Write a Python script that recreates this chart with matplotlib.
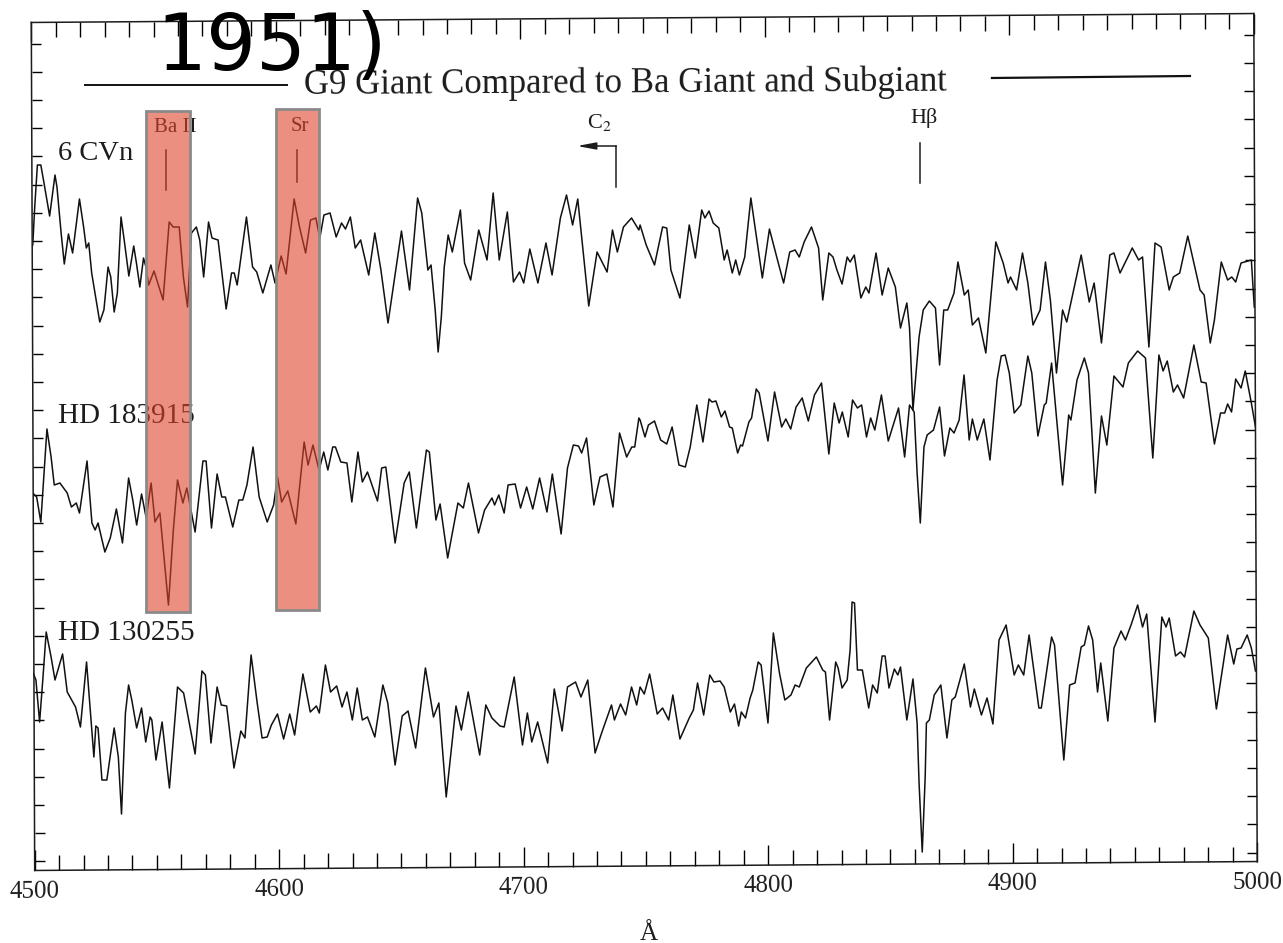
import matplotlib
matplotlib.use("Agg")
import matplotlib.pyplot as plt
from matplotlib.patches import Rectangle
from matplotlib.transforms import Affine2D
from numpy import arange

# Espectro de 6 CVn
cvn_wave = [4499.9, 4500.7, 4501.8, 4503.2, 4504.5, 4506.8, 4509, 4509.8, 4511.5, 4512.8, 4514.5, 4516.2, 4519, 4520.7, 4521.8, 4522.8, 4524, 4527.3, 4529, 4530.7, 4531.8, 4533.2, 4534.5, 4536, 4537.3, 4539.2, 4541.2, 4542.3, 4543.7, 4545.2, 4546.2, 4547.3, 4549.5, 4553.2, 4555.7, 4557.3, 4559.8, 4561.5, 4563.2, 4564.8, 4566.8, 4568.2, 4569.8, 4571.8, 4573.2, 4575.7, 4579, 4581.2, 4582.3, 4583.5, 4587.3, 4589.8, 4591.5, 4594, 4597.3, 4599, 4601.5, 4603.5, 4606.8, 4609, 4611.5, 4613.5, 4615.7, 4617.3, 4619, 4621.5, 4624, 4626.2, 4627.8, 4629.8, 4631.8, 4634, 4637.3, 4639.8, 4642.3, 4645.2, 4650.7, 4654, 4657.3, 4659, 4661.5, 4662.8, 4664.5, 4665.7, 4667, 4668.2, 4669.8, 4671.5, 4674.8, 4676.5, 4679, 4682.3, 4685.7, 4688.2, 4690.7, 4694, 4696.5, 4699, 4700.7, 4703.2, 4706.5, 4709.8, 4712.3, 4715.7, 4718.2, 4720.7, 4722.8, 4727.3, 4730.7, 4734.8, 4737, 4739, 4741.5, 4744.8, 4747.8,
            4748.3, 4750.8, 4754.2, 4757.5, 4759.2, 4760.9, 4764.6, 4768.4, 4770.9, 4773.5, 4774.8, 4776.5, 4778.2, 4780.5, 4782.7, 4783.9, 4786, 4787.4, 4788.9, 4791.1, 4793.6, 4798.3, 4801.2, 4804.5, 4807, 4809.5, 4811.7, 4813.4, 4815.4, 4818.4, 4821.3, 4823, 4825.5, 4827.2, 4828.8, 4830.9, 4833, 4834.2, 4835.9, 4838.6, 4840.6, 4841.9, 4844.8, 4847.3, 4849.8, 4852.7, 4854.8, 4857.4, 4858.5, 4859.9, 4862.4, 4864.1, 4866.6, 4869.1, 4870.8, 4872.5, 4874.1, 4876.7, 4878.3, 4880.9, 4882.5, 4884.2, 4886.7, 4889.7, 4890.9, 4893.8, 4896.8, 4898.8, 4899.8, 4902.3, 4904.7, 4906.9, 4909, 4911.9, 4914.1, 4916.1, 4918.6, 4921.1, 4922.8, 4928.7, 4932, 4934, 4937, 4940.4, 4942.1, 4944.6, 4949.6, 4952.2, 4953.8, 4956.4, 4958.9, 4961.4, 4964.7, 4966.4, 4969, 4972.3, 4977.3, 4979, 4981.5, 4983.2, 4986, 4988.6, 4990.3, 4991.9, 4994.1, 4998.3, 4999.5]
cvn_flux = [621, 659, 701, 701, 683, 650, 691, 679, 633, 602, 632, 613, 667, 639, 618, 623, 593, 544, 556, 599, 589, 554, 573, 649, 626, 590, 620, 603, 579, 608, 599, 581, 595, 566, 644, 639, 639, 589, 559, 633, 639, 626, 589, 644, 628, 626, 557, 593, 593, 581, 649, 599, 594, 573, 601, 583, 610, 592, 667, 639, 613, 646, 648, 628, 651, 653, 629, 643, 637, 649, 618, 626, 591, 633, 596, 543, 635, 576, 668, 653, 596, 601, 556, 514, 549, 599, 631, 614, 656, 603, 586, 636, 606, 673, 606, 654, 584, 594, 583, 617, 583, 623, 591, 648, 671, 641, 667, 560, 614, 594, 636, 614, 639, 648, 636,
            641, 621, 601, 639, 638, 596, 568, 641, 608, 656, 648, 655, 643, 638, 606, 616, 593, 606, 591, 609, 668, 588, 637, 606, 583, 614, 616, 609, 624, 639, 618, 566, 613, 609, 596, 582, 609, 604, 611, 568, 579, 573, 613, 571, 598, 579, 538, 563, 538, 456, 529, 556, 565, 558, 501, 556, 556, 573, 604, 571, 576, 541, 548, 513, 546, 624, 603, 583, 589, 576, 613, 583, 541, 556, 604, 566, 493, 556, 544, 611, 564, 583, 523, 611, 613, 593, 618, 606, 609, 519, 623, 619, 576, 589, 593, 630, 576, 571, 523, 546, 604, 586, 589, 584, 603, 606, 559]

# Espectro de HD 183915
hd183915_wave = [4499.9, 4501.5, 4503.2, 4505.7, 4507.4, 4508.7, 4511, 4514, 4515.7, 4517.7, 4519, 4522.1, 4524.1, 4525.4, 4526.6, 4529.4, 4531.6, 4534.1, 4536.6, 4539.1, 4540.8, 4542.4, 4544.4, 4546.3, 4548.3, 4549.9, 4551.9, 4555.4, 4557.4, 4559.1, 4561.3, 4562.9, 4566.3, 4569.5, 4570.8, 4573, 4575.3, 4577.2, 4578.7, 4581.7, 4584.2, 4585.8, 4587.5, 4590, 4592.5, 4595.8, 4598.4, 4600, 4601.7, 4604.2, 4607.5, 4610.9, 4612.5, 4614.5, 4617, 4618.9, 4620.6, 4622.6, 4623.7, 4625.9, 4628.4, 4630.4, 4632.9, 4634.7, 4636.8, 4640.9, 4642.6, 4644.3, 4648.1, 4651.8, 4653.9, 4656.8, 4660.9, 4662.1, 4664.8, 4666.5, 4669.6, 4673.8, 4676, 4678.1, 4682.2, 4684.7, 4687.7, 4688.8, 4690.5, 4692.7, 4694.3, 4697.2, 4699.4, 4701.9, 4704.4, 4707.2, 4710.2, 4712.4, 4716, 4718.6, 4721, 4723.1, 4724.4, 4726.4, 4729.4, 4731.9, 4734.7, 4737.2, 4739.9, 4742.8, 4744.9, 4746.1, 4747.8,
                 4748.3, 4750.3, 4751.7, 4754.2, 4756.7, 4759.2, 4761.4, 4764.2, 4766.8, 4768.8, 4771.5, 4774, 4776.5, 4777.7, 4779.3, 4781.5, 4783, 4784.9, 4786, 4788.2, 4789.4, 4790.2, 4792.8, 4793.9, 4795.8, 4797, 4800.6, 4803.3, 4806.2, 4807.9, 4809.9, 4812.1, 4814.6, 4817.1, 4819.6, 4822.5, 4825.5, 4827.7, 4829.7, 4831, 4833.4, 4835.2, 4837.2, 4838.9, 4840.9, 4842.6, 4844.3, 4847, 4849.8, 4854, 4856.5, 4858.5, 4860.4, 4861.6, 4862.9, 4864.4, 4865.7, 4868.3, 4870.8, 4872.8, 4875, 4876.7, 4878.8, 4880.8, 4882.9, 4884.2, 4886.2, 4888.9, 4891.4, 4894.3, 4896, 4897.6, 4899.3, 4901.3, 4904, 4906.9, 4908.5, 4911, 4913.6, 4914.4, 4916.6, 4921.1, 4923.6, 4924.5, 4927, 4930, 4931.7, 4934.5, 4937, 4939.2, 4942.1, 4945.8, 4948, 4951.8, 4955, 4958, 4960.5, 4962.2, 4963.9, 4966.4, 4968.1, 4970.6, 4974.8, 4977.8, 4979.8, 4983.2, 4985.7, 4987.4, 4988.6, 4990.2, 4991.9, 4994.1, 4995.8, 4998.3, 5000]
hd183915_flux = [373, 369, 344, 437, 409, 381, 383, 373, 359, 363, 353, 405, 343, 336, 343, 314, 328, 357, 323, 388, 366, 341, 372, 348, 383, 344, 353, 261, 336, 386, 363, 378, 334, 405, 405, 338, 392, 369, 369, 339, 366, 366, 381, 419, 369, 344, 361, 389, 364, 375, 342, 424, 401, 421, 396, 414, 396, 419, 419, 404, 403, 364, 414, 384, 394, 365, 398, 399, 323, 383, 394, 338, 416, 414, 346, 362, 308, 363, 358, 383, 333, 356, 368, 361, 371, 353, 381, 382, 358, 379, 357, 388, 354, 392, 332, 398, 421, 420, 413, 428, 361, 389, 392, 359, 433, 409, 419, 419, 448,
                 446, 429, 441, 445, 426, 422, 439, 401, 399, 419, 461, 424, 467, 464, 465, 449, 455, 439, 438, 413, 421, 420, 444, 448, 477, 473, 425, 474, 439, 447, 437, 459, 468, 445, 471, 483, 412, 463, 443, 454, 429, 466, 458, 461, 429, 448, 436, 471, 425, 458, 409, 461, 454, 393, 343, 419, 431, 436, 459, 410, 438, 433, 446, 491, 426, 447, 426, 447, 406, 486, 510, 511, 493, 453, 461, 510, 493, 430, 461, 463, 503, 381, 451, 446, 486, 508, 493, 373, 450, 421, 490, 479, 503, 515, 508, 408, 511, 495, 505, 474, 481, 468, 521, 484, 483, 422, 453, 453, 462, 454, 487, 478, 495, 463, 439]

# Espectro de HD 130255
hd130255_wave = [4499.9, 4501.2, 4502.7, 4504, 4505.4, 4507.4, 4509, 4512.1, 4514, 4517.4, 4519.4, 4521.9, 4523.2, 4524.9, 4525.7, 4526.6, 4528.2, 4530.2, 4533.2, 4534.9, 4536.2, 4537.8, 4539.1, 4540.4, 4542.4, 4544.4, 4546.1, 4547.9, 4548.6, 4550.3, 4552.8, 4555.8, 4559.1, 4561.6, 4566.3, 4569.1, 4570.5, 4572.8, 4575.3, 4577, 4579.2, 4582.2, 4585, 4586.7, 4589.2, 4591.7, 4593.7, 4595.8, 4597.5, 4600, 4602.5, 4605, 4607, 4610.4, 4613.4, 4615.9, 4617.1, 4619.6, 4621.7, 4624.2, 4626.4, 4628.4, 4630.6, 4632.6, 4634.7, 4636.8, 4639.8, 4643.1, 4645.1, 4648.1, 4651, 4653.4, 4656.5, 4660.5, 4663.8, 4666, 4669, 4673, 4675.2, 4678, 4682.7, 4685.2, 4687.7, 4691, 4692.7, 4696.8, 4700.2, 4702.2, 4704, 4706.4, 4710.5, 4713.2, 4716.4, 4718.6, 4721.9, 4724.1, 4726.9, 4729.9, 4732.7, 4736.6, 4737.8, 4740.3, 4742.4, 4744.8, 4746.9,
                 4748.3, 4750, 4752.2, 4755.3, 4757.5, 4760, 4761.7, 4764.6, 4768.4, 4770.1, 4771.8, 4774.3, 4776.8, 4778.5, 4781, 4782.7, 4785.2, 4786.9, 4788.6, 4789.7, 4791.4, 4793.3, 4794.4, 4796.6, 4797.8, 4800.6, 4802.8, 4805.3, 4807.5, 4810, 4811.7, 4813.4, 4816.3, 4820.4, 4823, 4824.1, 4825.8, 4828.3, 4829.3, 4830.9, 4833, 4834.2, 4835, 4836, 4837.2, 4839.2, 4841.8, 4843.4, 4845.3, 4847.3, 4848.5, 4850.1, 4852.3, 4853.7, 4854.8, 4857.4, 4859.9, 4861.6, 4862.4, 4863.7, 4864.9, 4865.4, 4866.6, 4868.6, 4871.3, 4873.8, 4875.8, 4877.2, 4880.9, 4883.4, 4885, 4887.9, 4890.2, 4892.6, 4895.1, 4898, 4901.3, 4903, 4905.2, 4907.4, 4911.4, 4912.4, 4916.6, 4917.8, 4921.6, 4924, 4926.2, 4928.7, 4930, 4931.7, 4933.4, 4935.4, 4936.7, 4939.6, 4942.1, 4945, 4946.8, 4949.1, 4951.8, 4953.8, 4955.5, 4958.9, 4961.7, 4963.4, 4964.7, 4967.3, 4969.3, 4971, 4974.8, 4977.3, 4980.7, 4984, 4986.6, 4988.6, 4991.1, 4992.4, 4994.1, 4996.6, 4998.3, 5000]
hd130255_flux = [194, 186, 144, 186, 234, 209, 186, 212, 174, 159, 139, 204, 163, 109, 140, 138, 86, 86, 138, 109, 52, 153, 181, 166, 138, 158, 124, 149, 146, 106, 144, 78, 179, 173, 112, 195, 191, 123, 179, 161, 160, 98, 135, 128, 211, 163, 128, 129, 141, 152, 127, 152, 131, 192, 154, 160, 153, 201, 174, 180, 159, 174, 146, 178, 146, 149, 129, 181, 163, 101, 150, 155, 118, 198, 149, 163, 69, 160, 136, 174, 111, 161, 148, 140, 139, 189, 121, 153, 124, 144, 103, 177, 135, 179, 184, 169, 186, 113, 134, 161, 146, 162, 151, 179, 161,
                 179, 172, 192, 152, 158, 146, 171, 127, 148, 156, 183, 151, 191, 184, 185, 179, 154, 162, 140, 154, 148, 168, 176, 204, 201, 143, 233, 193, 166, 171, 181, 179, 198, 209, 196, 194, 146, 204, 198, 178, 186, 216, 264, 263, 196, 196, 158, 181, 173, 210, 210, 178, 197, 191, 199, 146, 187, 143, 83, 14, 89, 143, 146, 171, 181, 128, 166, 169, 202, 159, 177, 151, 168, 142, 226, 241, 191, 201, 191, 231, 158, 158, 229, 221, 106, 181, 183, 219, 221, 240, 226, 174, 203, 145, 218, 235, 226, 241, 261, 239, 252, 144, 249, 239, 248, 210, 214, 209, 255, 241, 228, 157, 199, 231, 202, 217, 218, 231, 218, 195]

x_ticks = [4500, 4600, 4700, 4800, 4900, 5000]
band_colour = (0.875, 0.268, 0.17, 0.6)
serif = "Liberation Serif"
ink = "#1c1c1c"

fig = plt.figure(figsize=(12.83, 9.43), dpi=100)
ax = fig.add_axes([33 / 1283, 1 - 866 / 943, 1222.5 / 1283, 848 / 943])

ax.plot(cvn_wave, cvn_flux, color="#111111", lw=1.1, solid_joinstyle="round")
ax.plot(hd183915_wave, hd183915_flux, color="#111111", lw=1.1, solid_joinstyle="round")
ax.plot(hd130255_wave, hd130255_flux, color="#111111", lw=1.1, solid_joinstyle="round")

ax.set_xlim(4500, 5000)
ax.set_ylim(0, 848)

ax.set_xticks(x_ticks)
ax.set_xticklabels([str(t) for t in x_ticks], family=serif, fontsize=18, color=ink)
ax.set_xticks(arange(4500, 5001, 10), minor=True)
ax.set_yticks(arange(9, 848, 28.2))
ax.set_yticklabels([])
ax.tick_params(axis="x", which="major", direction="in", top=True, length=14.5, width=1, pad=7)
ax.tick_params(axis="x", which="minor", direction="in", top=True, length=7, width=1)
ax.tick_params(axis="y", which="major", direction="in", right=True, length=7, width=1)

# os ticks de 50 em 50 sao um pouco maiores
for tick in ax.xaxis.get_minor_ticks():
    if tick.get_loc() % 50 == 0:
        tick.tick1line.set_markersize(10.5)
        tick.tick2line.set_markersize(10.5)

for spine in ax.spines.values():
    spine.set_linewidth(1.1)
    spine.set_color(ink)

# A moldura esta levemente torta no scan original
tilt = Affine2D.from_values(1, 0.0073, -0.004, 1, 0, 0)
tilt = Affine2D().translate(-644.5, -501) + tilt + Affine2D().translate(644.5, 501)

for spine in ax.spines.values():
    spine.set_transform(spine.get_transform() + tilt)

all_ticks = (ax.xaxis.get_major_ticks() + ax.xaxis.get_minor_ticks() + ax.yaxis.get_major_ticks())
for tick in all_ticks:
    tick.tick1line.set_transform(tick.tick1line.get_transform() + tilt)
    tick.tick2line.set_transform(tick.tick2line.get_transform() + tilt)
    tick.label1.set_transform(tick.label1.get_transform() + tilt)
    tick.label1.set_rotation(0.4)

# Titulo e linhas ao lado
ax.text(4742.2, 782, "G9 Giant Compared to Ba Giant and Subgiant", family=serif, fontsize=25,
        ha="center", va="center", rotation=0.3, color=ink)
ax.plot([4521.3, 4603.9], [781, 781], color="#111111", lw=1.4)
ax.plot([4892.2, 4973.2], [788, 790], color="#111111", lw=1.6)

# Resto do titulo cortado
ax.text(4550.5, 796, "1951)", family="DejaVu Sans", fontsize=56.5, color="black", ha="left",
        va="baseline", clip_on=False, zorder=6)

# Nomes das estrelas
ax.text(4510.4, 713, "6 CVn", family=serif, fontsize=20.5, va="center", color=ink)
ax.text(4510.4, 450, "HD 183915", family=serif, fontsize=21, va="center", color=ink)
ax.text(4510.4, 233, "HD 130255", family=serif, fontsize=21, va="center", color=ink)

# Marcas das linhas espectrais
ax.text(4558, 739, "Ba II", family=serif, fontsize=15, ha="center", va="center", color=ink)
ax.text(4609, 740, "Sr", family=serif, fontsize=15, ha="center", va="center", color=ink)
ax.plot([4554.2, 4554.2], [676, 716], color=ink, lw=1.1)
ax.plot([4607.8, 4607.8], [684, 716], color=ink, lw=1.1)
ax.text(4731.5, 744, "C$_2$", family=serif, fontsize=16, ha="center", va="center", color=ink,
        math_fontfamily="stix")
ax.text(4864.5, 748, "H\u03b2", family=serif, fontsize=16, ha="center", va="center", color=ink)
ax.plot([4862.9, 4862.9], [683, 723], color=ink, lw=1.1)
ax.plot([4738.5, 4738.5], [679, 720], color=ink, lw=1.1)
ax.annotate("", xy=(4722.5, 720), xytext=(4738.5, 720),
            arrowprops=dict(arrowstyle="-|>,head_length=0.8,head_width=0.15", color=ink, lw=1.1,
                            shrinkA=0, shrinkB=0, mutation_scale=14))

# Faixas vermelhas de Ba II e Sr
ax.add_patch(Rectangle((4546.2, 254), 18, 501, facecolor=band_colour, edgecolor="#8a8a8a", lw=2, zorder=5))
ax.add_patch(Rectangle((4599.4, 256), 17.6, 501, facecolor=band_colour, edgecolor="#8a8a8a", lw=2, zorder=5))

ax.set_xlabel("\u00c5", family=serif, fontsize=18, color=ink, labelpad=15, x=0.5035)

fig.savefig("out.png", dpi=100)
